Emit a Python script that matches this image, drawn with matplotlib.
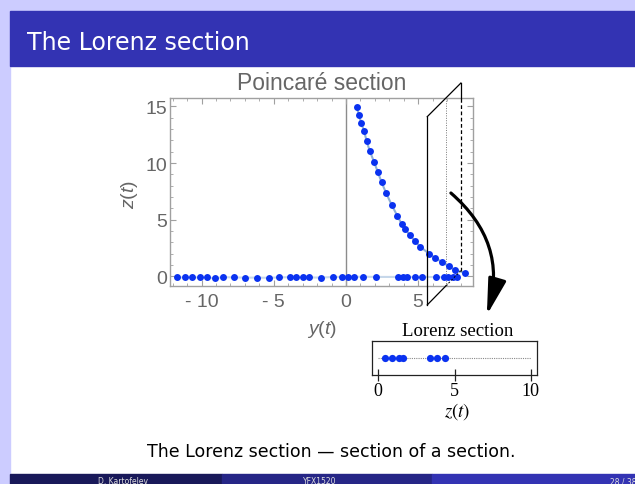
import matplotlib.pyplot as plt
from matplotlib.patches import Rectangle, FancyArrowPatch
from matplotlib.ticker import FixedLocator, MultipleLocator

plt.rcParams['mathtext.fontset'] = 'custom'
plt.rcParams['mathtext.rm'] = 'Liberation Sans'
plt.rcParams['mathtext.it'] = 'Liberation Sans:italic'

# Poincaré section: descending branch and the points lying near z = 0
curve_y = [0.74, 0.90, 1.04, 1.25, 1.43, 1.64, 1.94, 2.20, 2.47, 2.79, 3.16,
           3.55, 3.86, 4.07, 4.43, 4.78, 5.15, 5.77, 6.18, 6.67, 7.13, 7.55, 8.24]
curve_z = [14.92, 14.27, 13.56, 12.85, 11.94, 11.09, 10.11, 9.23, 8.29, 7.32, 6.32,
           5.35, 4.62, 4.17, 3.65, 3.09, 2.61, 1.97, 1.62, 1.24, 0.88, 0.56, 0.29]

floor_y = [-11.70, -11.17, -10.64, -10.13, -9.63, -9.09, -8.52, -7.78, -6.97, -6.16,
           -5.35, -4.66, -3.90, -3.44, -2.98, -2.58, -1.71, -0.92, -0.30, 0.16, 0.55,
           1.20, 2.10, 3.62, 3.93, 4.25, 4.78, 5.24, 6.23, 6.79, 7.08, 7.39, 7.71]
floor_z = [-0.10, -0.10, -0.10, -0.10, -0.10, -0.18, -0.08, -0.10, -0.12, -0.12,
           -0.14, -0.10, -0.08, -0.08, -0.08, -0.10, -0.12, -0.06, -0.06, -0.06, -0.06,
           -0.04, -0.06, -0.06, -0.06, -0.06, -0.06, -0.04, -0.08, -0.08, -0.08, -0.06, -0.06]

# Lorenz section: z values of the points hit by the second plane
lorenz_z = [0.44, 0.92, 1.38, 1.64, 3.39, 3.87, 4.38]

y_ticks = [-10, -5, 0, 5]
y_tick_labels = ['- 10', '- 5', '0', '5']
z_ticks = [0, 5, 10, 15]
inset_ticks = [0, 5, 10]

# section plane drawn over the plot (data coordinates)
plane_x = [5.63, 7.96]
plane_z_left = [-2.53, 14.09]
plane_z_right = [0.50, 17.06]
plane_mark_x = 6.90

W, H = 635, 485
fig = plt.figure(figsize=(W / 100, H / 100), dpi=100)

def fx(px):
    return px / W

def fy(py):
    return 1 - py / H

# slide decoration
lav = '#ccccff'
fig.patches.append(Rectangle((0, 0), fx(10), 1, color=lav, transform=fig.transFigure, zorder=0))
fig.patches.append(Rectangle((0, fy(12)), 1, 12 / H, color=lav, transform=fig.transFigure, zorder=0))
fig.patches.append(Rectangle((fx(10), fy(67)), 1, 55 / H, color='#3333b3', transform=fig.transFigure, zorder=0))
fig.text(fx(27), fy(43), 'The Lorenz section', color='white', fontsize=17,
         family='DejaVu Sans', va='center', ha='left')

foot_cols = ['#191959', '#262686', '#3333b3']
foot_edges = [10, 222, 432, 645]
for i, c in enumerate(foot_cols):
    fig.patches.append(Rectangle((fx(foot_edges[i]), 0), (foot_edges[i + 1] - foot_edges[i]) / W,
                                 10 / H, color=c, transform=fig.transFigure, zorder=0))
fig.text(fx(123), fy(482), 'D. Kartofelev', color='#dddddd', fontsize=5.5, ha='center', va='center')
fig.text(fx(320), fy(482), 'YFX1520', color='#dddddd', fontsize=5.5, ha='center', va='center')
fig.text(fx(610), fy(482), '28 / 38', color='#dddddd', fontsize=5.5, ha='left', va='center')

fig.text(fx(331), fy(452), 'The Lorenz section \u2014 section of a section.',
         fontsize=12.5, family='DejaVu Sans', ha='center', va='center')

# main Poincaré section plot
gray = '#666666'
ax = fig.add_axes([fx(170), fy(287), (473 - 170) / W, (287 - 99) / H])
ax.set_xlim(-12.19, 8.80)
ax.set_ylim(-0.86, 15.74)
ax.axvline(0, color='#8c8c8c', lw=1.0, zorder=1)

line_col = '#8fb0d6'
ax.plot(floor_y, floor_z, color=line_col, lw=1.5, alpha=0.5, zorder=2)
ax.plot(curve_y, curve_z, color=line_col, lw=1.5, zorder=2)
dot_col = '#0a32f0'
ax.plot(floor_y, floor_z, 'o', color=dot_col, ms=5.0, mew=0, zorder=3)
ax.plot(curve_y, curve_z, 'o', color=dot_col, ms=5.0, mew=0, zorder=3)

for s in ax.spines.values():
    s.set_color('#a0a0a0')
    s.set_linewidth(1.0)
ax.xaxis.set_major_locator(FixedLocator(y_ticks))
ax.xaxis.set_minor_locator(MultipleLocator(1))
ax.yaxis.set_major_locator(FixedLocator(z_ticks))
ax.yaxis.set_minor_locator(MultipleLocator(1))
ax.set_xticklabels(y_tick_labels)
ax.tick_params(which='both', direction='in', top=True, right=True, color='#a0a0a0')
ax.tick_params(which='major', length=4, width=0.8)
ax.tick_params(which='minor', length=2, width=0.6)
ax.tick_params(axis='x', labelsize=14, labelcolor=gray, pad=5)
ax.tick_params(axis='y', labelsize=14, labelcolor=gray, pad=2)
for lab in ax.get_xticklabels() + ax.get_yticklabels():
    lab.set_family('Liberation Sans')

fig.text(fx(322), fy(84), 'Poincaré section', fontsize=16.5, color=gray,
         family='Liberation Sans', ha='center', va='center')
fig.text(fx(129), fy(194), '$z(t)$', fontsize=14, color=gray, rotation=90,
         ha='center', va='center')
fig.text(fx(322), fy(330), '$y(t)$', fontsize=14, color=gray, ha='center', va='center')

# section plane and arrow
pl = dict(color='black', lw=0.9, clip_on=False, zorder=5)
ax.plot([plane_x[0], plane_x[0]], plane_z_left, **pl)
ax.plot([plane_x[0], plane_x[1]], [plane_z_left[1], plane_z_right[1]], **pl)
ax.plot([plane_x[1], plane_x[1]], [15.74, plane_z_right[1]], **pl)
ax.plot([plane_x[1], plane_x[1]], [plane_z_right[0], 15.74], color='black', lw=0.9,
        ls=(0, (3, 2)), zorder=5)
bx = plane_x[0] + (plane_x[1] - plane_x[0]) * (-0.86 - plane_z_left[0]) / (plane_z_right[0] - plane_z_left[0])
ax.plot([plane_x[0], bx], [plane_z_left[0], -0.86], **pl)
ax.plot([bx, plane_x[1]], [-0.86, plane_z_right[0]], color='black', lw=0.7,
        ls=(0, (2, 2)), zorder=5)
ax.axvline(plane_mark_x, color='#777777', lw=0.7, ls=(0, (1, 1.5)), zorder=1)

arrow = FancyArrowPatch((7.27, 7.35), (9.76, -3.42), transform=ax.transData,
                        connectionstyle='arc3,rad=-0.32',
                        arrowstyle='-|>,head_length=2.2,head_width=0.55',
                        mutation_scale=10, lw=2.3, color='black',
                        shrinkA=0, shrinkB=0, clip_on=False, zorder=6)
fig.add_artist(arrow)

# inset: Lorenz section
axi = fig.add_axes([fx(371.7), fy(376), 165 / W, 33.7 / H])
axi.set_xlim(-0.43, 10.39)
axi.set_ylim(-1, 1)
axi.hlines(0, inset_ticks[0], inset_ticks[-1], color='#888888', lw=0.8, ls=(0, (1, 1)))
axi.plot(lorenz_z, [0] * len(lorenz_z), 'o', color=dot_col, ms=5.2, mew=0)
for s in axi.spines.values():
    s.set_color('#222222')
    s.set_linewidth(0.9)
axi.set_yticks([])
axi.set_xticks(inset_ticks)
axi.tick_params(axis='x', direction='inout', length=8, width=0.9, color='#222222',
                labelsize=13, pad=1)
for lab in axi.get_xticklabels():
    lab.set_family('Liberation Serif')
fig.text(fx(457.3), fy(331.5), 'Lorenz section', fontsize=13.5, family='Liberation Serif',
         ha='center', va='center')
fig.text(fx(456.7), fy(412), '$z(t)$', fontsize=13.5, math_fontfamily='stix',
         ha='center', va='center')

fig.savefig('out.png', dpi=100)
